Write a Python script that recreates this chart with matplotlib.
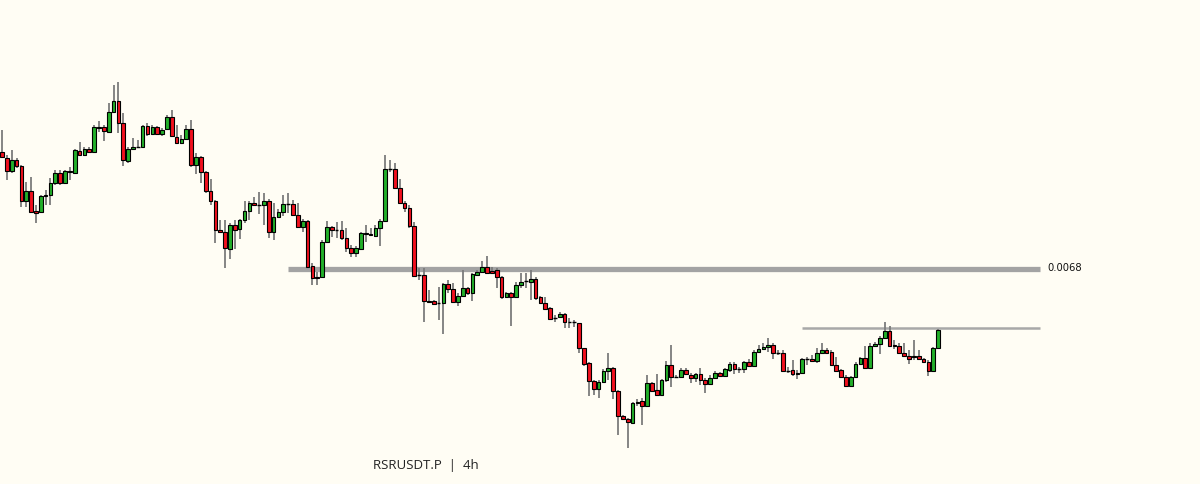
import numpy as np
import matplotlib
matplotlib.use('Agg')
from matplotlib import pyplot as plt
from matplotlib.patches import Rectangle

# 4h candles
o = [0.00796, 0.00790, 0.00777, 0.00788, 0.00782, 0.00747, 0.00757, 0.00737, 0.00736, 0.00752,
     0.00753, 0.00765, 0.00775, 0.00765, 0.00777, 0.00775, 0.00797, 0.00793, 0.00799, 0.00796,
     0.00821, 0.00821, 0.00816, 0.00836, 0.00847, 0.00825, 0.00787, 0.00799, 0.00801, 0.00801,
     0.00822, 0.00814, 0.00821, 0.00814, 0.00819, 0.00831, 0.00811, 0.00805, 0.00809, 0.00819,
     0.00783, 0.00791, 0.00776, 0.00757, 0.00747, 0.00718, 0.00716, 0.00699, 0.00723, 0.00719,
     0.00728, 0.00737, 0.00745, 0.00743, 0.00743, 0.00747, 0.00716, 0.00731, 0.00736, 0.00744,
     0.00744, 0.00733, 0.00721, 0.00727, 0.00682, 0.00671, 0.00671, 0.00706, 0.00721, 0.00718,
     0.00718, 0.00710, 0.00700, 0.00695, 0.00699, 0.00715, 0.00714, 0.00712, 0.00720, 0.00727,
     0.00779, 0.00779, 0.00760, 0.00745, 0.00740, 0.00722, 0.00673, 0.00673, 0.00647, 0.00647,
     0.00645, 0.00645, 0.00664, 0.00659, 0.00646, 0.00652, 0.00660, 0.00655, 0.00673, 0.00676,
     0.00681, 0.00677, 0.00678, 0.00671, 0.00651, 0.00655, 0.00651, 0.00663, 0.00667, 0.00666,
     0.00669, 0.00651, 0.00645, 0.00640, 0.00630, 0.00631, 0.00634, 0.00626, 0.00626, 0.00625,
     0.00600, 0.00585, 0.00567, 0.00559, 0.00566, 0.00577, 0.00580, 0.00557, 0.00532, 0.00529,
     0.00525, 0.00545, 0.00547, 0.00542, 0.00565, 0.00558, 0.00553, 0.00568, 0.00583, 0.00571,
     0.00571, 0.00578, 0.00573, 0.00570, 0.00574, 0.00568, 0.00564, 0.00570, 0.00575, 0.00572,
     0.00578, 0.00584, 0.00579, 0.00579, 0.00586, 0.00582, 0.00596, 0.00599, 0.00601, 0.00603,
     0.00595, 0.00595, 0.00577, 0.00578, 0.00574, 0.00575, 0.00589, 0.00589, 0.00587, 0.00595,
     0.00598, 0.00596, 0.00583, 0.00578, 0.00571, 0.00562, 0.00571, 0.00584, 0.00590, 0.00580,
     0.00602, 0.00604, 0.00610, 0.00617, 0.00603, 0.00602, 0.00595, 0.00592, 0.00592, 0.00592,
     0.00589, 0.00586, 0.00577, 0.00600]
h = [0.00818, 0.00793, 0.00798, 0.00790, 0.00783, 0.00766, 0.00771, 0.00743, 0.00753, 0.00758,
     0.00770, 0.00778, 0.00778, 0.00778, 0.00781, 0.00799, 0.00806, 0.00801, 0.00801, 0.00823,
     0.00827, 0.00823, 0.00845, 0.00863, 0.00866, 0.00835, 0.00801, 0.00810, 0.00808, 0.00823,
     0.00825, 0.00823, 0.00822, 0.00820, 0.00833, 0.00838, 0.00823, 0.00813, 0.00823, 0.00828,
     0.00795, 0.00792, 0.00777, 0.00769, 0.00748, 0.00728, 0.00728, 0.00725, 0.00728, 0.00729,
     0.00747, 0.00747, 0.00751, 0.00756, 0.00755, 0.00749, 0.00745, 0.00739, 0.00753, 0.00755,
     0.00748, 0.00745, 0.00729, 0.00728, 0.00685, 0.00676, 0.00708, 0.00727, 0.00722, 0.00726,
     0.00727, 0.00720, 0.00703, 0.00702, 0.00716, 0.00723, 0.00720, 0.00723, 0.00729, 0.00793,
     0.00788, 0.00785, 0.00769, 0.00747, 0.00743, 0.00726, 0.00680, 0.00680, 0.00658, 0.00648,
     0.00661, 0.00665, 0.00668, 0.00665, 0.00655, 0.00678, 0.00661, 0.00675, 0.00678, 0.00687,
     0.00692, 0.00681, 0.00680, 0.00672, 0.00656, 0.00656, 0.00666, 0.00675, 0.00675, 0.00678,
     0.00671, 0.00652, 0.00651, 0.00641, 0.00633, 0.00636, 0.00635, 0.00630, 0.00628, 0.00625,
     0.00600, 0.00586, 0.00568, 0.00568, 0.00579, 0.00595, 0.00581, 0.00558, 0.00533, 0.00530,
     0.00546, 0.00549, 0.00550, 0.00573, 0.00566, 0.00574, 0.00569, 0.00587, 0.00603, 0.00573,
     0.00580, 0.00580, 0.00575, 0.00575, 0.00580, 0.00570, 0.00573, 0.00577, 0.00576, 0.00580,
     0.00586, 0.00586, 0.00581, 0.00587, 0.00589, 0.00598, 0.00603, 0.00605, 0.00610, 0.00605,
     0.00598, 0.00598, 0.00581, 0.00588, 0.00578, 0.00590, 0.00591, 0.00593, 0.00600, 0.00605,
     0.00600, 0.00598, 0.00591, 0.00579, 0.00573, 0.00572, 0.00586, 0.00591, 0.00602, 0.00605,
     0.00606, 0.00612, 0.00626, 0.00622, 0.00608, 0.00605, 0.00605, 0.00598, 0.00608, 0.00598,
     0.00590, 0.00588, 0.00601, 0.00619]
l = [0.00790, 0.00768, 0.00775, 0.00780, 0.00741, 0.00741, 0.00735, 0.00725, 0.00735, 0.00743,
     0.00743, 0.00763, 0.00763, 0.00764, 0.00768, 0.00774, 0.00792, 0.00792, 0.00795, 0.00795,
     0.00816, 0.00807, 0.00815, 0.00836, 0.00815, 0.00782, 0.00785, 0.00798, 0.00800, 0.00800,
     0.00812, 0.00813, 0.00813, 0.00812, 0.00818, 0.00811, 0.00804, 0.00804, 0.00808, 0.00781,
     0.00774, 0.00765, 0.00755, 0.00743, 0.00705, 0.00715, 0.00680, 0.00689, 0.00699, 0.00709,
     0.00725, 0.00728, 0.00742, 0.00734, 0.00723, 0.00710, 0.00708, 0.00730, 0.00732, 0.00735,
     0.00732, 0.00720, 0.00716, 0.00680, 0.00663, 0.00663, 0.00670, 0.00705, 0.00711, 0.00710,
     0.00708, 0.00696, 0.00691, 0.00691, 0.00698, 0.00706, 0.00712, 0.00711, 0.00702, 0.00726,
     0.00776, 0.00759, 0.00745, 0.00736, 0.00720, 0.00671, 0.00668, 0.00626, 0.00645, 0.00643,
     0.00628, 0.00614, 0.00655, 0.00646, 0.00642, 0.00651, 0.00653, 0.00647, 0.00672, 0.00675,
     0.00674, 0.00674, 0.00660, 0.00649, 0.00650, 0.00622, 0.00650, 0.00660, 0.00660, 0.00648,
     0.00648, 0.00644, 0.00638, 0.00628, 0.00626, 0.00630, 0.00620, 0.00620, 0.00621, 0.00595,
     0.00582, 0.00552, 0.00553, 0.00550, 0.00565, 0.00568, 0.00549, 0.00513, 0.00528, 0.00500,
     0.00525, 0.00542, 0.00523, 0.00541, 0.00556, 0.00552, 0.00552, 0.00566, 0.00561, 0.00570,
     0.00571, 0.00573, 0.00565, 0.00566, 0.00563, 0.00555, 0.00563, 0.00570, 0.00571, 0.00571,
     0.00576, 0.00574, 0.00575, 0.00575, 0.00581, 0.00581, 0.00596, 0.00598, 0.00596, 0.00589,
     0.00593, 0.00576, 0.00575, 0.00572, 0.00569, 0.00574, 0.00583, 0.00587, 0.00585, 0.00594,
     0.00595, 0.00582, 0.00576, 0.00571, 0.00561, 0.00561, 0.00571, 0.00583, 0.00580, 0.00580,
     0.00601, 0.00594, 0.00609, 0.00601, 0.00599, 0.00594, 0.00591, 0.00584, 0.00588, 0.00588,
     0.00585, 0.00572, 0.00576, 0.00599]
c = [0.00791, 0.00777, 0.00788, 0.00782, 0.00747, 0.00757, 0.00736, 0.00735, 0.00752, 0.00753,
     0.00765, 0.00775, 0.00765, 0.00777, 0.00776, 0.00798, 0.00793, 0.00799, 0.00796, 0.00821,
     0.00820, 0.00817, 0.00836, 0.00847, 0.00825, 0.00788, 0.00799, 0.00801, 0.00801, 0.00822,
     0.00814, 0.00821, 0.00814, 0.00818, 0.00831, 0.00812, 0.00805, 0.00809, 0.00819, 0.00783,
     0.00791, 0.00776, 0.00757, 0.00747, 0.00718, 0.00716, 0.00700, 0.00723, 0.00718, 0.00728,
     0.00737, 0.00745, 0.00743, 0.00743, 0.00747, 0.00716, 0.00731, 0.00736, 0.00744, 0.00744,
     0.00733, 0.00721, 0.00727, 0.00681, 0.00670, 0.00670, 0.00706, 0.00721, 0.00718, 0.00718,
     0.00710, 0.00700, 0.00695, 0.00700, 0.00715, 0.00714, 0.00713, 0.00720, 0.00727, 0.00779,
     0.00779, 0.00760, 0.00745, 0.00740, 0.00722, 0.00672, 0.00673, 0.00647, 0.00646, 0.00644,
     0.00645, 0.00664, 0.00659, 0.00646, 0.00652, 0.00660, 0.00655, 0.00674, 0.00676, 0.00681,
     0.00675, 0.00675, 0.00671, 0.00651, 0.00655, 0.00651, 0.00663, 0.00666, 0.00667, 0.00669,
     0.00650, 0.00645, 0.00639, 0.00629, 0.00630, 0.00634, 0.00626, 0.00626, 0.00626, 0.00600,
     0.00584, 0.00567, 0.00559, 0.00566, 0.00577, 0.00580, 0.00557, 0.00532, 0.00529, 0.00526,
     0.00545, 0.00546, 0.00542, 0.00565, 0.00557, 0.00553, 0.00568, 0.00583, 0.00571, 0.00571,
     0.00578, 0.00574, 0.00570, 0.00574, 0.00568, 0.00564, 0.00570, 0.00575, 0.00572, 0.00579,
     0.00584, 0.00579, 0.00579, 0.00586, 0.00582, 0.00596, 0.00599, 0.00601, 0.00603, 0.00595,
     0.00595, 0.00577, 0.00577, 0.00574, 0.00575, 0.00589, 0.00589, 0.00587, 0.00595, 0.00598,
     0.00595, 0.00583, 0.00577, 0.00571, 0.00562, 0.00571, 0.00584, 0.00590, 0.00580, 0.00602,
     0.00604, 0.00610, 0.00617, 0.00602, 0.00602, 0.00595, 0.00592, 0.00589, 0.00591, 0.00589,
     0.00586, 0.00577, 0.00600, 0.00618]

# drawn levels
level_main = 0.0068
level_main_from = 59
level_top = 0.0062
level_top_from = 165
level_to = 214
title = "RSRUSDT.P  |  4h"

bg = '#fffdf4'
up_col = '#22b02a'
dn_col = '#f2101e'

fig = plt.figure(figsize=(12, 4.84), dpi=100, facecolor=bg)
ax = fig.add_axes([0, 0, 1, 1])
ax.set_facecolor(bg)

x = np.arange(len(o))
w = 0.76
ax.vlines(x, l, h, color='#7c7c7c', linewidth=1.3, zorder=2)
for i in range(len(o)):
    col = up_col if c[i] >= o[i] else dn_col
    lo = min(o[i], c[i])
    ht = abs(c[i] - o[i])
    if ht < 1e-9:
        ax.hlines(o[i], x[i] - w / 2, x[i] + w / 2, color='black', linewidth=1.0, zorder=3)
    else:
        ax.add_patch(Rectangle((x[i] - w / 2, lo), w, ht, facecolor=col,
                               edgecolor='black', linewidth=0.8, zorder=3))

# levels sit behind the candles
ax.hlines(level_main - 0.00001, level_main_from, level_to, color='#a3a3a3', linewidth=3.8, zorder=1)
ax.hlines(level_top, level_top_from, level_to, color='#a8a8a8', linewidth=1.8, zorder=1)
ax.text(level_to + 1.6, level_main, "%.4f" % level_main, fontsize=7.2,
        color='#111111', va='center', ha='left')

ax.set_xlim(-0.41, 247.0)
ax.set_ylim(0.00464, 0.00948)
ax.axis('off')

fig.text(373 / 1200, 1 - 465 / 484, title, fontsize=9.5, color='#222222',
         family='Open Sans', va='center', ha='left')

plt.savefig("out.png", dpi=100, facecolor=bg)
